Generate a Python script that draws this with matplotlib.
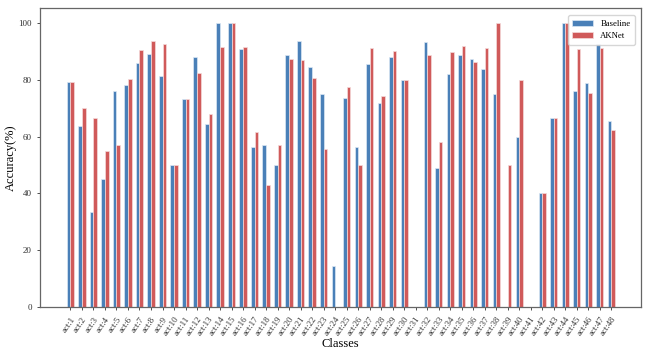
import matplotlib
matplotlib.use("Agg")
import matplotlib.pyplot as plt
import numpy as np

plt.rcParams['font.family'] = ['Liberation Serif', 'DejaVu Serif']

classes = [f"act:{i}" for i in range(1, 49)]
baseline = [79.4, 63.8, 33.3, 45.1, 76.2, 78.1, 85.8, 89.0, 81.5, 50.0,
            73.3, 88.2, 64.3, 100.0, 100.0, 91.0, 56.4, 57.1, 50.0, 88.9,
            93.6, 84.6, 75.0, 14.3, 73.7, 56.3, 85.6, 71.8, 88.2, 80.0,
            0.0, 93.2, 48.9, 82.0, 88.9, 87.3, 84.0, 75.0, 0.0, 60.0,
            0.0, 40.0, 66.7, 100.0, 76.0, 79.0, 92.6, 65.6]
aknet = [79.4, 70.2, 66.7, 54.9, 57.1, 80.4, 90.5, 93.6, 92.6, 50.0,
         73.3, 82.3, 67.9, 91.7, 100.0, 91.7, 61.5, 42.9, 57.1, 87.2,
         87.1, 80.8, 55.8, 0.0, 77.5, 50.0, 91.3, 74.3, 90.2, 80.0,
         0.0, 88.6, 58.1, 89.7, 91.9, 86.3, 91.3, 100.0, 50.0, 80.0,
         0.0, 40.0, 66.7, 100.0, 91.0, 75.4, 91.4, 62.5]

x = np.arange(len(classes))
w = 0.31

fig = plt.figure(figsize=(6.62, 3.5), dpi=100)
ax = fig.add_axes([0.0604, 0.123, 0.908, 0.854])
ax.bar(x - w/2, baseline, w, color='#4a80b8', edgecolor='#dce8f4', linewidth=0.5, label='Baseline')
ax.bar(x + w/2, aknet, w, color='#d05a5a', edgecolor='#f4dada', linewidth=0.5, label='AKNet')

ax.set_xlim(-2.65, 49.6)
ax.set_ylim(0, 105.3)
ax.set_xticks(x)
ax.set_xticklabels(classes, rotation=55, fontsize=6.3, ha='right', rotation_mode='anchor')
ax.set_yticks([0, 20, 40, 60, 80, 100])
ax.tick_params(axis='y', labelsize=6.5)
ax.tick_params(length=2.5, width=0.6, colors='#333333')
for s in ax.spines.values():
    s.set_color('#666666')
    s.set_linewidth(0.9)
ax.set_xlabel("Classes", fontsize=9, labelpad=0)
ax.set_ylabel("Accuracy(%)", fontsize=9, labelpad=1)
ax.legend(loc='upper right', fontsize=6.3, handlelength=2.4, borderpad=0.5,
          bbox_to_anchor=(0.997, 0.99))

fig.savefig("out.png")
